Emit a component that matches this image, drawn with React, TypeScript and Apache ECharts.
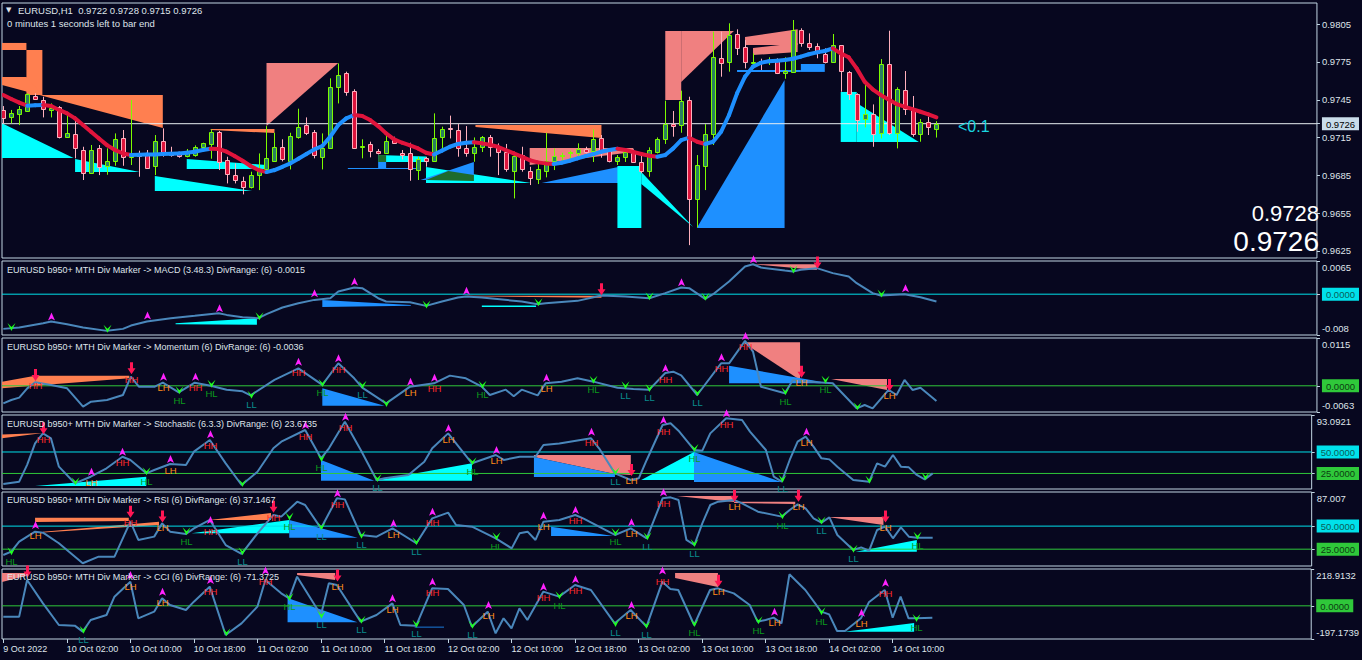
import React, { useEffect, useRef } from "react";
import * as echarts from "echarts";

const FONT = '"Liberation Sans", Arial, sans-serif';
const BG = "#07071f";
const FRAME = "#c2d6e4";
const TXT = "#dfe4ea";

// ---------- time axis ----------
const tickBars = [0, 8, 16, 24, 32, 40, 48, 56, 64, 72, 80, 88, 96, 104, 112];
const tickLabels = ["9 Oct 2022", "10 Oct 02:00", "10 Oct 10:00", "10 Oct 18:00", "11 Oct 02:00", "11 Oct 10:00", "11 Oct 18:00", "12 Oct 02:00", "12 Oct 10:00", "12 Oct 18:00", "13 Oct 02:00", "13 Oct 10:00", "13 Oct 18:00", "14 Oct 02:00", "14 Oct 10:00"];

// ---------- price pane ----------
const priceTicks = [0.9625, 0.9655, 0.9685, 0.9715, 0.9745, 0.9775, 0.9805];
const lastPrice = 0.9726;
// [open, close, low, high] per H1 bar
const ohlc = [
  [0.97369, 0.97302, 0.97263, 0.974], [0.9731, 0.97342, 0.97263, 0.97369], [0.97334, 0.97374, 0.97249, 0.974], [0.97363, 0.97493, 0.97355, 0.97501],
  [0.97482, 0.97453, 0.97448, 0.97501], [0.97448, 0.97374, 0.9731, 0.97474], [0.97366, 0.97387, 0.9731, 0.97421], [0.97395, 0.97157, 0.97143, 0.974],
  [0.97157, 0.97183, 0.97151, 0.97342], [0.97175, 0.97064, 0.96985, 0.97316], [0.97051, 0.96871, 0.96813, 0.97077], [0.96871, 0.97051, 0.96871, 0.97091],
  [0.97069, 0.96913, 0.96852, 0.97091], [0.96924, 0.96961, 0.96855, 0.97064], [0.96961, 0.97136, 0.96926, 0.97183], [0.97143, 0.96993, 0.96926, 0.9721],
  [0.96993, 0.97024, 0.96932, 0.97448], [0.97011, 0.97008, 0.96839, 0.97046], [0.97011, 0.96911, 0.96905, 0.97051], [0.96926, 0.9712, 0.96852, 0.9717],
  [0.9712, 0.97019, 0.96998, 0.97223], [0.9703, 0.97009, 0.96998, 0.97077], [0.97016, 0.97003, 0.9699, 0.97038], [0.97001, 0.97027, 0.96993, 0.97059],
  [0.97009, 0.97072, 0.96998, 0.97088], [0.97072, 0.97104, 0.97067, 0.97109], [0.97096, 0.97191, 0.96982, 0.97215], [0.97191, 0.96958, 0.96892, 0.97202],
  [0.96969, 0.96858, 0.96786, 0.96998], [0.9685, 0.9681, 0.96786, 0.96945], [0.96802, 0.9676, 0.96699, 0.96839], [0.9676, 0.9685, 0.96746, 0.96879],
  [0.96852, 0.96889, 0.96733, 0.97024], [0.96897, 0.96985, 0.96887, 0.97241], [0.96966, 0.97075, 0.96958, 0.97188], [0.97072, 0.96982, 0.96961, 0.97136],
  [0.96966, 0.97162, 0.96897, 0.97188], [0.97157, 0.97233, 0.97141, 0.97379], [0.97247, 0.97188, 0.9717, 0.9731], [0.97191, 0.97009, 0.96985, 0.9721],
  [0.96998, 0.97067, 0.96897, 0.97183], [0.97069, 0.97549, 0.97064, 0.9762], [0.97554, 0.97644, 0.97421, 0.97739], [0.9766, 0.97514, 0.97482, 0.97673],
  [0.97519, 0.97069, 0.97059, 0.97533], [0.97072, 0.97083, 0.96985, 0.97136], [0.97096, 0.97046, 0.96993, 0.97117], [0.97043, 0.97024, 0.97016, 0.97059],
  [0.9703, 0.9712, 0.97024, 0.97175], [0.97136, 0.97104, 0.97099, 0.97157], [0.9703, 0.97009, 0.96977, 0.97051], [0.97024, 0.96897, 0.96807, 0.97109],
  [0.96889, 0.96982, 0.96813, 0.96998], [0.96987, 0.96966, 0.96918, 0.96998], [0.96966, 0.97143, 0.96958, 0.97342], [0.97151, 0.97215, 0.97046, 0.97236],
  [0.97228, 0.97215, 0.97143, 0.97324], [0.9721, 0.97064, 0.96998, 0.97257], [0.97067, 0.9703, 0.96998, 0.97241], [0.9703, 0.97072, 0.96958, 0.97151],
  [0.97072, 0.97151, 0.97035, 0.97162], [0.97151, 0.97072, 0.96998, 0.9717], [0.97075, 0.97038, 0.96852, 0.97104], [0.97038, 0.96897, 0.96879, 0.97099],
  [0.96887, 0.97003, 0.96667, 0.97038], [0.97009, 0.96897, 0.96879, 0.97077], [0.96887, 0.96831, 0.96773, 0.96918], [0.96818, 0.96897, 0.96781, 0.96958],
  [0.96887, 0.96966, 0.96834, 0.97188], [0.96961, 0.97003, 0.96892, 0.97064], [0.97001, 0.97009, 0.96945, 0.9703], [0.97024, 0.97032, 0.96963, 0.97046],
  [0.9703, 0.97061, 0.97003, 0.97104], [0.97061, 0.97038, 0.97024, 0.97077], [0.97046, 0.97136, 0.96956, 0.97215], [0.97143, 0.97043, 0.9699, 0.9717],
  [0.97043, 0.96966, 0.96953, 0.97056], [0.96966, 0.96993, 0.96932, 0.97011], [0.96998, 0.97035, 0.96956, 0.97056], [0.9703, 0.96958, 0.9695, 0.97056],
  [0.96953, 0.96887, 0.96866, 0.97019], [0.96887, 0.97048, 0.96839, 0.97072], [0.97038, 0.97136, 0.97024, 0.97151], [0.97136, 0.97255, 0.97099, 0.97443],
  [0.97257, 0.97244, 0.97157, 0.97361], [0.97247, 0.97437, 0.97188, 0.97522], [0.97448, 0.96664, 0.96296, 0.97474], [0.96659, 0.96929, 0.96437, 0.97011],
  [0.96926, 0.97175, 0.96733, 0.97257], [0.97175, 0.97787, 0.97091, 0.97991], [0.97779, 0.97739, 0.97633, 0.97991], [0.97747, 0.97961, 0.97673, 0.98057],
  [0.97972, 0.97858, 0.97805, 0.98009], [0.97866, 0.97747, 0.97699, 0.97924], [0.97739, 0.9775, 0.97699, 0.97818], [0.97755, 0.97739, 0.97686, 0.97776],
  [0.97747, 0.97768, 0.97726, 0.97787], [0.97771, 0.97665, 0.97654, 0.97779], [0.9766, 0.97681, 0.97617, 0.97787], [0.97673, 0.98004, 0.97665, 0.98083],
  [0.98004, 0.97898, 0.97871, 0.98017], [0.97898, 0.97866, 0.97845, 0.97977], [0.97879, 0.97818, 0.97779, 0.97898], [0.97813, 0.97752, 0.97739, 0.97858],
  [0.97747, 0.97882, 0.97744, 0.97972], [0.97882, 0.97678, 0.97514, 0.97882], [0.9767, 0.97493, 0.97448, 0.97678], [0.97493, 0.97289, 0.97196, 0.97501],
  [0.97294, 0.97334, 0.97231, 0.97567], [0.97334, 0.97175, 0.97077, 0.97413], [0.97183, 0.97731, 0.97143, 0.97773], [0.97731, 0.97183, 0.9717, 0.97998],
  [0.97189, 0.97533, 0.97064, 0.97549], [0.97527, 0.97374, 0.97329, 0.97678], [0.97369, 0.97175, 0.97157, 0.9748], [0.97175, 0.97271, 0.97117, 0.97297],
  [0.97271, 0.97231, 0.9717, 0.97316], [0.9722, 0.9726, 0.9715, 0.9728],
];
const maLine = [
  0.97488, 0.97456, 0.97427, 0.97403, 0.97406, 0.97408, 0.974, 0.97369, 0.97342, 0.97302,
  0.97249, 0.97196, 0.97143, 0.9709, 0.97051, 0.97024, 0.97011, 0.97014, 0.97016, 0.97016,
  0.97019, 0.97021, 0.97024, 0.9703, 0.97038, 0.97051, 0.97061, 0.97059, 0.97038, 0.97003,
  0.96966, 0.96924, 0.96892, 0.96876, 0.96892, 0.96918, 0.96945, 0.96982, 0.97019, 0.97056,
  0.97083, 0.97157, 0.97249, 0.97302, 0.97329, 0.97321, 0.97289, 0.97241, 0.97183, 0.97136,
  0.97109, 0.97088, 0.97064, 0.9703, 0.97016, 0.97046, 0.97077, 0.97099, 0.97109, 0.97112,
  0.97104, 0.97093, 0.97077, 0.97051, 0.97024, 0.96998, 0.96971, 0.96953, 0.96945, 0.9694,
  0.9695, 0.96966, 0.96985, 0.97003, 0.97019, 0.97038, 0.97051, 0.97061, 0.97051, 0.97035,
  0.97019, 0.97006, 0.96998, 0.97011, 0.97064, 0.9713, 0.97149, 0.97117, 0.97099, 0.97117,
  0.97196, 0.97329, 0.97501, 0.97633, 0.97713, 0.97744, 0.97755, 0.9776, 0.97765, 0.97776,
  0.97792, 0.97811, 0.97826, 0.97837, 0.97858, 0.97818, 0.97787, 0.97699, 0.97593, 0.97533,
  0.97488, 0.97453, 0.97416, 0.97395, 0.97376, 0.97355, 0.97334, 0.9731,
];
// divergence zones: [kind, [[bar, value], ...]]
const mainZones: [string, number[][]][] = [
  ["coral", [[-0.2, 0.97901], [2.9, 0.97901], [2.9, 0.97845], [-0.2, 0.97845]]],
  ["coral", [[2.9, 0.97845], [4.9, 0.97845], [4.9, 0.97488], [2.9, 0.97488]]],
  ["coral", [[-0.2, 0.97631], [2.9, 0.97631], [4.9, 0.97488], [20, 0.97488], [20, 0.97226], [-0.2, 0.97567]]],
  ["aqua", [[-0.2, 0.97265], [8.8, 0.96988], [-0.2, 0.96988]]],
  ["aqua", [[9, 0.9698], [17.1, 0.96876], [9, 0.96876]]],
  ["aqua", [[19, 0.96845], [31.2, 0.96725], [19, 0.96725]]],
  ["salmon", [[33, 0.97742], [42, 0.97742], [33, 0.97242]]],
  ["coral", [[26, 0.97218], [34, 0.97218], [34, 0.97186], [26, 0.9721]]],
  ["aqua", [[23, 0.9698], [33, 0.96932], [33, 0.969], [23, 0.969]]],
  ["aqua", [[47, 0.97011], [53, 0.97], [53, 0.96956], [47, 0.96956]]],
  ["blue", [[43.2, 0.96908], [52.3, 0.96908], [52.3, 0.969], [43.2, 0.969]]],
  ["green", [[47, 0.97011], [48, 0.97011], [48, 0.96956], [47, 0.96956]]],
  ["blue", [[47, 0.96956], [48, 0.96956], [48, 0.96908], [47, 0.96908]]],
  ["aqua", [[53, 0.96916], [66.2, 0.96789], [53, 0.96789]]],
  ["blue", [[52.3, 0.96813], [59, 0.96956], [59, 0.96813]]],
  ["green", [[53, 0.96813], [55.8, 0.96884], [59, 0.96853], [59, 0.96805]]],
  ["blue", [[67.5, 0.96789], [77.1, 0.96916], [77.1, 0.96789]]],
  ["salmon", [[66, 0.97067], [79, 0.97067], [79, 0.97035], [66, 0.96932]]],
  ["coral", [[59.2, 0.9725], [75, 0.9725], [75, 0.97146], [59.2, 0.97234]]],
  ["aqua", [[77, 0.96924], [80, 0.96924], [80, 0.96432], [77, 0.96432]]],
  ["aqua", [[80, 0.96876], [80, 0.96781], [86.5, 0.9644]]],
  ["blue", [[86.95, 0.96432], [97.96, 0.97607], [97.96, 0.96432]]],
  ["salmon", [[83, 0.97996], [85, 0.97996], [85, 0.97448], [83, 0.97448]]],
  ["salmon", [[85, 0.97996], [91.6, 0.97996], [85, 0.97591]]],
  ["salmon", [[93, 0.97948], [99.6, 0.9801], [99.6, 0.97885], [93, 0.97885]]],
  ["salmon", [[94, 0.97861], [99.6, 0.97901], [99.6, 0.9783], [94, 0.97805]]],
  ["blue", [[92, 0.97686], [100, 0.97686], [100, 0.97671], [92, 0.97671]]],
  ["blue", [[100, 0.97734], [103, 0.97734], [103, 0.97671], [100, 0.97671]]],
  ["aqua", [[105, 0.97512], [107, 0.97512], [107, 0.97115], [105, 0.97115]]],
  ["aqua", [[107, 0.97424], [114.8, 0.97115], [107, 0.97115]]],
];

// ---------- MACD ----------
const macdLine = [
  [0, -0.0068], [2, -0.00654], [5, -0.00569], [6, -0.00536], [8, -0.00589], [10, -0.00654], [13, -0.00719], [15, -0.0068], [16, -0.00615], [18, -0.00536],
  [21, -0.00471], [24, -0.00425], [27, -0.00373], [28, -0.00406], [30, -0.00452], [32, -0.00471], [33, -0.00392], [35, -0.00262], [37, -0.00177], [39, -0.00112],
  [41, -0.00079], [42, 0.00052], [44, 0.0013], [45, 0.00117], [47, -0.00079], [48, -0.00144], [51, -0.00157], [53, -0.00229], [55, -0.00144], [57, -0.00066],
  [58, -0.00046], [60, -0.00066], [65, -0.00144], [67, -0.00197], [68, -0.00177], [72, -0.00131], [75, -0.00026], [78, -0.00046], [81, -0.00079], [83, 0.0002],
  [85, 0.0013], [86, 0.00117], [88, -0.00092], [89, 0], [91, 0.00248], [93, 0.00542], [94, 0.00587], [95, 0.00522], [98, 0.00463], [99, 0.00444],
  [100, 0.00477], [102, 0.0051], [104, 0.00412], [106, 0.00346], [107, 0.00216], [109, 0.0002], [110, -0.00026], [113, 0], [115, -0.00059], [117, -0.00144],
];
const macdLevels = [0];
const macdMarks: [number, number, string, string][] = [
  [6, -0.00537, "P", ""], [18, -0.00517, "P", ""], [27, -0.00373, "P", ""], [39, -0.00078, "P", ""], [44, 0.00149, "P", ""], [58, -0.00033, "P", ""],
  [85, 0.00137, "P", ""], [94, 0.00588, "P", ""], [113, 0.0002, "P", ""], [75, 0, "S", ""], [102, 0.00521, "S", ""],
  [1, -0.00681, "T", ""], [13, -0.00719, "T", ""], [32, -0.0047, "T", ""], [53, -0.00243, "T", ""], [67, -0.00196, "T", ""], [81, -0.00078, "T", ""],
  [88, -0.00092, "T", ""], [99, 0.00443, "T", ""], [110, -0.00027, "T", ""],
];
const macdZones: [string, number[][]][] = [
  ["aqua", [[21.6, -0.0057], [31.8, -0.0047], [31.8, -0.006], [21.6, -0.0059]]],
  ["blue", [[40, -0.00112], [51.1, -0.0021], [51.1, -0.00229], [40, -0.00249]]],
  ["aqua", [[60, -0.0022], [66.8, -0.0022], [66.8, -0.0025], [60, -0.0025]]],
  ["coral", [[58.1, -0.0003], [75, -0.0003], [75, -0.0007], [58.1, -0.0004]]],
  ["salmon", [[93.8, 0.00588], [102, 0.00588], [102, 0.00476]]],
];

// ---------- Momentum ----------
const momLine = [
  [0, -0.00421], [1, -0.00341], [2, -0.00285], [3, -0.00061], [4, 0.00084], [6, 0.00021], [8, -0.00061], [10, -0.00501], [11, -0.00381], [13, -0.00341],
  [15, -0.00221], [16, 0.00221], [17, -0.00021], [19, -0.00021], [20, 0.00076], [22, -0.00157], [24, 0.00076], [26, 0], [28, -0.00093], [30, -0.00133],
  [31, -0.00229], [34, 0.00141], [37, 0.00421], [40, 0.00021], [42, 0.00541], [44, 0.0018], [45, -0.00045], [48, -0.00421], [51, -0.00021], [54, 0.0006],
  [56, 0.00245], [58, 0.0018], [60, -0.00021], [61, -0.00221], [63, -0.00093], [64, -0.00253], [65, -0.00093], [67, -0.00229], [68, 0.0006], [70, 0.001],
  [72, 0.0018], [74, 0.001], [77, -0.00045], [79, -0.00077], [81, -0.00093], [83, 0.00309], [84, 0.0034], [85, 0.00253], [87, -0.00221], [90, 0.00541],
  [91, 0.00541], [93, 0.0108], [94, 0.00823], [95, -0.00021], [98, -0.00181], [99, 0.0014], [102, 0.00084], [104, 0.0006], [107, -0.00541], [108, -0.00461],
  [109, -0.00541], [111, -0.001], [112, -0.00221], [113, 0.0014], [114, -0.001], [115, -0.00045], [117, -0.00365],
];
const momLevels = [0];
const momMarks: [number, number, string, string][] = [
  [4, 0.0014, "S", "HH"], [16, 0.003, "S", "HH"], [20, 0.001, "P", "LH"], [22, -0.00157, "T", "HL"], [24, 0.001, "P", "HH"], [26, 0, "T", "HL"],
  [31, -0.00262, "T", "LL"], [37, 0.0046, "P", "HH"], [40, 0.0002, "T", "HL"], [42, 0.0054, "P", "HH"], [45, -0.0002, "T", "LL"], [48, -0.0046, "T", ""],
  [51, -0.0002, "P", "LH"], [54, 0.00075, "P", "HH"], [60, -0.0002, "T", "HL"], [68, 0.00075, "P", "LH"], [74, 0.001, "T", "HL"], [78, -0.00035, "T", "LL"],
  [81, -0.001, "T", "LL"], [83, 0.003, "P", "HH"], [87, -0.00205, "T", "LL"], [90, 0.00565, "P", "HH"], [93, 0.01078, "P", "HH"], [98, -0.0018, "T", "HL"],
  [100, 0.0022, "S", "LH"], [103, 0.001, "T", "HL"], [107, -0.0054, "T", ""], [111, -0.001, "S", "LH"],
];
const momZones: [string, number[][]][] = [
  ["coral", [[-0.2, 0.00099], [4, 0.00243], [15.8, 0.00243], [15.8, 0.0018], [-0.2, -0.0006]]],
  ["blue", [[40, -0.0006], [47.8, -0.00479], [40, -0.00479]]],
  ["salmon", [[92.7, 0.01046], [99.9, 0.01046], [99.9, 0.0014]]],
  ["blue", [[91, 0.00483], [102.5, 0.00099], [102.5, 0.0006], [91, 0.0006]]],
  ["salmon", [[103.8, 0.00164], [110.8, 0.00164], [110.8, -0.001]]],
];

// ---------- Stochastic ----------
const stochLine = [
  [0, 12.7], [2, 15.4], [3, 35], [4, 60], [5, 71.7], [6, 65.9], [7, 32.9], [9, 13.5], [11, 21.2], [13, 31], [15, 44.5], [16, 40.7], [18, 25.1], [19, 29],
  [21, 36], [23, 34.8], [24, 50.4], [26, 64], [28, 36.8], [30, 11.5], [32, 27], [34, 54.3], [35, 62], [38, 75.6], [40, 42.6], [41, 54.3], [43, 85.3],
  [45, 52.3], [47, 17.4], [48, 19.3], [51, 23.2], [53, 38.7], [54, 54.3], [56, 71.7], [58, 48.4], [59, 36.8], [62, 46.5], [63, 40.7], [65, 44.5],
  [67, 44.5], [68, 58.1], [70, 60], [74, 65.9], [75, 54.3], [77, 25.1], [79, 17.4], [80, 19.3], [81, 40.7], [83, 81.4], [84, 83.4], [85, 74.8],
  [87, 52.3], [88, 51.5], [89, 71.7], [91, 89.2], [93, 87.3], [94, 73.7], [96, 52.3], [97, 21.2], [98, 15.4], [99, 40.7], [100, 62], [101, 67.8],
  [102, 56.2], [103, 42.6], [104, 41.4], [105, 32.9], [107, 17.4], [109, 15.4], [110, 36.8], [111, 32.9], [112, 46.5], [113, 32.9], [114, 32.1],
  [115, 23.2], [116, 18.1], [117, 25.1],
];
const stochLevels = [50, 25];
const stochMarks: [number, number, string, string][] = [
  [5, 71.7, "S", "HH"], [9, 13.5, "T", ""], [11, 21.2, "P", "LH"], [15, 44.5, "P", "HH"], [18, 25.1, "T", "HL"], [21, 36, "P", "LH"], [26, 64.7, "P", "HH"],
  [30, 11.5, "T", ""], [38, 75.6, "P", "HH"], [40, 40.7, "T", "HL"], [43, 85.3, "P", "HH"], [47, 17.4, "T", "LL"], [56, 71.7, "P", "LH"], [59, 36.8, "T", "HL"],
  [62, 46.5, "P", "LH"], [74, 67.8, "P", "HH"], [77, 25.1, "T", "LL"], [79, 23.2, "S", "LH"], [83, 81.4, "P", "HH"], [87, 52.3, "T", "HL"], [91, 89.2, "P", "HH"],
  [98, 16.6, "T", "LL"], [101, 67.8, "P", "LH"], [109, 15.4, "T", ""], [116, 19.3, "T", ""],
];
const stochZones: [string, number[][]][] = [
  ["coral", [[-0.2, 70.5], [5, 72], [-0.2, 66]]],
  ["aqua", [[4, 10.4], [18, 21.2], [18, 10.4]]],
  ["blue", [[40, 40.7], [46.7, 16.6], [40, 16.6]]],
  ["aqua", [[46.7, 16.6], [59, 36.8], [59, 16.6]]],
  ["salmon", [[66.8, 46.5], [79, 46.5], [79, 23.2], [77, 24.3], [66.8, 44.2]]],
  ["blue", [[66.8, 44.2], [77, 24.3], [77, 20.9], [66.8, 20.9]]],
  ["aqua", [[80.3, 17.4], [86.95, 50], [86.95, 17.4]]],
  ["blue", [[86.95, 50], [97.96, 15], [86.95, 15]]],
];

// ---------- RSI ----------
const rsiLine = [
  [0, 18.7], [1, 22.3], [2, 33.2], [4, 44], [5, 42.9], [7, 31.4], [10, 9.7], [12, 16.9], [14, 16.9], [16, 54.8], [17, 35], [19, 38.6], [20, 53], [21, 44],
  [23, 41.5], [24, 47.6], [26, 56.7], [28, 29.5], [30, 19.8], [32, 42.2], [34, 62.1], [35, 60.3], [37, 76.5], [38, 72.9], [40, 47.6], [42, 80.2], [43, 79],
  [45, 40.4], [47, 38.6], [49, 47.6], [52, 31.4], [54, 58.4], [56, 64.6], [57, 51.2], [59, 49.4], [62, 36.8], [64, 25.9], [65, 42.2], [66, 44], [67, 35],
  [68, 54.8], [70, 56.6], [72, 62.1], [73, 58.4], [75, 49.4], [77, 40.4], [79, 47.6], [81, 36.8], [83, 80.2], [84, 81.2], [85, 78.4], [86, 35], [87, 29.5],
  [88, 53], [89, 72.9], [90, 76.5], [92, 78.4], [93, 74.7], [95, 65.7], [98, 60.3], [99, 67.5], [100, 73.6], [101, 69.3], [102, 58.4], [103, 53.8],
  [104, 59.5], [105, 40.4], [107, 24.1], [108, 27], [109, 23.4], [110, 45.8], [111, 49.4], [112, 36.8], [113, 48.7], [114, 38.6], [115, 37.5], [117, 37.5],
];
const rsiLevels = [50, 25];
const rsiMarks: [number, number, string, string][] = [
  [1, 20.5, "T", "HL"], [4, 45.8, "P", "LH"], [16, 60.3, "S", "HH"], [20, 54.9, "S", "LH"], [23, 42.2, "T", "HL"], [26, 51.2, "P", "HH"], [30, 20.5, "T", "LL"],
  [34, 65.7, "S", "HH"], [36, 58.4, "T", "HL"], [40, 47.6, "T", "LL"], [42, 80.2, "P", "HH"], [45, 38.6, "T", "LL"], [49, 47.6, "P", "LH"], [52, 31.4, "T", "LL"],
  [54, 60.3, "P", "HH"], [62, 36.8, "T", "HL"], [68, 55.9, "P", "LH"], [72, 62.1, "P", "HH"], [77, 41.5, "T", "HL"], [79, 48.7, "P", "LH"], [81, 36.8, "T", "LL"],
  [83, 81.2, "P", "HH"], [87, 29.5, "T", "LL"], [92, 77.6, "S", "LH"], [98, 59.5, "T", "HL"], [100, 77.6, "S", "LH"], [103, 53.8, "T", "LL"], [107, 23.4, "T", "LL"],
  [111, 54.9, "S", "LH"], [115, 37.5, "T", "HL"],
];
const rsiZones: [string, number[][]][] = [
  ["coral", [[4, 59.1], [15.8, 59.1], [15.8, 55.5], [4, 54.5]]],
  ["coral", [[5, 44], [19.6, 54.8], [19.6, 51.2], [5, 43.1]]],
  ["aqua", [[23.7, 42.2], [36, 56.6], [36, 42.2]]],
  ["coral", [[25.9, 56.6], [33.7, 64.2], [33.7, 56.6]]],
  ["blue", [[36, 56.6], [44.6, 37.4], [36, 37.4]]],
  ["blue", [[68.96, 49.4], [76.8, 39.3], [68.96, 39.3]]],
  ["salmon", [[84.8, 82.7], [92, 82.7], [92, 76.2]]],
  ["salmon", [[92, 76.5], [99.7, 76.5], [99.7, 74], [92, 75.1]]],
  ["salmon", [[103.8, 59.9], [110.8, 59.9], [110.8, 51.2]]],
  ["aqua", [[107.3, 22.3], [115, 34.9], [115, 22.3]]],
];

// ---------- CCI ----------
const cciLine = [
  [0, -64.4], [2, -64.4], [3, 153.5], [5, 14.9], [7, -113.9], [9, -117.9], [10, -153.5], [11, -84.2], [13, -54.5], [14, 54.5], [16, 143.6], [17, -74.3],
  [19, -34.6], [20, 44.6], [21, 5], [23, -24.7], [24, 24.8], [26, 113.9], [28, -173.3], [30, -104], [32, -5], [33, 153.5], [35, 74.3], [36, 44.6], [37, 173.4],
  [40, -54.5], [41, 133.7], [42, 123.8], [45, -94.1], [47, -54.5], [49, 14.9], [50, -113.9], [52, -117.9], [54, 104], [56, 100], [58, 5], [59, -123.8],
  [61, -34.6], [62, -163.4], [63, -74.3], [64, -133.7], [65, -14.9], [66, -84.2], [68, 84.2], [70, 54.5], [72, 123.8], [74, 94.1], [77, -104], [79, -24.7],
  [81, -123.8], [83, 143.6], [84, 100], [85, 94.1], [87, -113.9], [89, 94.1], [90, 104], [92, 74.3], [94, 5], [95, -94.1], [96, -84.2], [97, -70.3],
  [98, -104], [99, 187.2], [101, 94.1], [103, -34.6], [104, -50.5], [105, -149.5], [106, -149.5], [108, -74.3], [109, 20.8], [111, 94.1], [112, -70.3],
  [113, 54.5], [114, -74.3], [115, -74.3], [117, -70.3],
];
const cciLevels = [0];
const cciMarks: [number, number, string, string][] = [
  [3, 175, "S", ""], [10, -153.5, "T", "LL"], [16, 153.5, "P", "LH"], [20, 54.5, "P", "LH"], [26, 123.8, "P", "HH"], [28, -169.4, "T", ""], [33, 180, "P", "HH"],
  [36, 40.6, "T", "HL"], [40, -64.4, "T", "LL"], [42, 150, "S", "LH"], [45, -94.1, "T", "LL"], [49, 14.9, "P", "LH"], [52, -117.9, "T", "LL"], [54, 113.9, "P", "HH"],
  [59, -123.8, "T", "LL"], [61, -24.7, "P", "LH"], [68, 84.2, "P", "HH"], [70, 50.5, "T", "HL"], [72, 127.8, "P", "HH"], [77, -113.9, "T", "LL"], [79, -24.7, "P", "LH"],
  [81, -123.8, "T", "LL"], [83, 180, "P", "HH"], [87, -113.9, "T", "HL"], [90, 119.9, "S", "LH"], [95, -98, "T", "HL"], [97, -64.4, "P", "LH"], [103, -44.6, "T", "HL"],
  [108, -70.3, "P", "LH"], [111, 108, "P", "HH"], [115, -84.2, "T", "HL"],
];
const cciZones: [string, number[][]][] = [
  ["salmon", [[-0.2, 195.1], [2.8, 195.1], [2.8, 177.3], [-0.2, 141.6]]],
  ["salmon", [[37, 195.1], [41.8, 195.1], [41.8, 153.5], [37, 183.2]]],
  ["blue", [[35.8, 46.5], [44.6, -97.9], [35.8, -97.9]]],
  ["blue", [[51.8, -124], [55.5, -124], [55.5, -129], [51.8, -129]]],
  ["salmon", [[84.6, 195.1], [90, 195.1], [90, 111.9], [84.6, 165.4]]],
  ["aqua", [[105.9, -153.8], [114.7, -102.1], [114.7, -153.8]]],
];

// ---------- styles ----------
const ZONE_COLORS: Record<string, string> = { coral: "#ff7f50", salmon: "#f08080", aqua: "#00ffff", blue: "#1e90ff", green: "#1e6b2c" };
const LABEL_COLORS: Record<string, string> = { HH: "#ff2a2a", LH: "#ff8c1a", HL: "#0c9a1c", LL: "#0a8c8c" };
const CYAN = "#00e1ea";
const GREEN = "#2fc83a";
const X_MIN = -0.1625;
const X_MAX = 164.71;
const AX_FS = 9.5;
const SM_FS = 9;

const panes = [
  { top: 3, height: 255, min: 0.96194, max: 0.98218 },
  { top: 261, height: 74, min: -0.008, max: 0.0065, minText: "-0.008", maxText: "0.0065" },
  { top: 338, height: 74, min: -0.0063, max: 0.0115, minText: "-0.0063", maxText: "0.0115" },
  { top: 415, height: 74, min: 6.8766, max: 93.0921, minText: "6.8766", maxText: "93.0921" },
  { top: 492, height: 74, min: 6.7567, max: 87.007, minText: "6.7567", maxText: "87.007" },
  { top: 569, height: 70, min: -197.1739, max: 218.9132, minText: "-197.1739", maxText: "218.9132" },
];

function zoneSeries(zones: [string, number[][]][], k: number) {
  return {
    type: "custom", xAxisIndex: k, yAxisIndex: k, silent: true, clip: true, z: 1,
    data: zones.map((z) => z[1][0]),
    renderItem: (params: any, api: any) => {
      const z = zones[params.dataIndex];
      return { type: "polygon", shape: { points: z[1].map((p) => api.coord(p)) }, style: { fill: ZONE_COLORS[z[0]] } };
    },
  };
}

function markSeries(marks: [number, number, string, string][], k: number) {
  return {
    type: "custom", xAxisIndex: k, yAxisIndex: k, silent: true, clip: false, z: 6,
    data: marks.map((m) => [m[0], m[1]]),
    renderItem: (params: any, api: any) => {
      const m = marks[params.dataIndex];
      const p = api.coord([m[0], m[1]]);
      const x = Math.round(p[0]) + 0.5, y = p[1];
      const ch: any[] = [];
      if (m[2] === "P") {
        ch.push({ type: "polygon", shape: { points: [[x, y - 9], [x - 3.5, y - 1], [x, y - 3], [x + 3.5, y - 1]] }, style: { fill: "#ff22ff" } });
      } else if (m[2] === "S") {
        ch.push({ type: "polygon", shape: { points: [[x, y + 1], [x - 4, y - 5], [x - 1.5, y - 5], [x - 1.5, y - 11], [x + 1.5, y - 11], [x + 1.5, y - 5], [x + 4, y - 5]] }, style: { fill: "#ff1654" } });
      } else {
        ch.push({ type: "polygon", shape: { points: [[x, y + 2], [x - 4, y - 6], [x, y - 2], [x + 4, y - 6]] }, style: { fill: "#1fff1f" } });
      }
      if (m[3]) {
        ch.push({ type: "text", x, y: y + (m[2] === "T" ? 3 : 1), style: { text: m[3], fill: LABEL_COLORS[m[3]], font: `9.5px ${FONT}`, align: "center", verticalAlign: "top" } });
      }
      return { type: "group", children: ch };
    },
  };
}

function lineSeries(data: number[][], k: number) {
  return { type: "line", xAxisIndex: k, yAxisIndex: k, data, symbol: "none", silent: true, z: 4, lineStyle: { color: "#4a87bb", width: 2 } };
}

function levelSeries(level: number, color: string, k: number) {
  return { type: "line", xAxisIndex: k, yAxisIndex: k, data: [[X_MIN, level], [X_MAX, level]], symbol: "none", silent: true, z: 2, lineStyle: { color, width: 1 } };
}

function buildOption() {
  const grids = panes.map((p) => ({ left: 2, width: 1319, top: p.top, height: p.height, show: true, borderColor: FRAME, borderWidth: 1, backgroundColor: "transparent" }));
  const xAxes = panes.map((_, k) => ({
    type: "value", gridIndex: k, min: X_MIN, max: X_MAX, show: k === 5, position: "bottom",
    axisLine: { show: false, onZero: false }, splitLine: { show: false },
    axisTick: { show: true, customValues: tickBars, length: 4, lineStyle: { color: FRAME } },
    axisLabel: {
      show: k === 5, customValues: tickBars, align: "left", margin: 5, color: TXT, fontFamily: FONT, fontSize: SM_FS,
      formatter: (v: number) => tickLabels[tickBars.indexOf(Math.round(v))] ?? "",
    },
  }));
  const levelColor = (k: number, lv: number) => (k === 1 ? "c" : k === 3 || k === 4 ? (lv === 50 ? "c" : "g") : "g");
  const paneLevels = [[], macdLevels, momLevels, stochLevels, rsiLevels, cciLevels];
  const rich = {
    t: { padding: [13, 0, 0, 0], color: TXT, fontFamily: FONT, fontSize: AX_FS },
    b: { padding: [0, 0, 13, 0], color: TXT, fontFamily: FONT, fontSize: AX_FS },
    c: { backgroundColor: CYAN, color: "#0b5e58", padding: [2, 4, 1, 4], fontFamily: FONT, fontSize: AX_FS },
    g: { backgroundColor: GREEN, color: "#0d3d12", padding: [2, 4, 1, 4], fontFamily: FONT, fontSize: AX_FS },
    cur: { backgroundColor: "#c9dcea", color: "#000", padding: [2, 4, 1, 4], fontFamily: FONT, fontSize: AX_FS },
  };
  const yAxes = panes.map((p: any, k) => {
    const vals = k === 0 ? [...priceTicks, lastPrice] : [p.max, ...paneLevels[k], p.min];
    return {
      type: "value", gridIndex: k, position: "right", min: p.min, max: p.max,
      splitLine: { show: false }, axisLine: { show: false, onZero: false },
      axisTick: { show: true, length: 3, customValues: vals, lineStyle: { color: FRAME } },
      axisLabel: {
        customValues: vals, margin: 5, color: TXT, fontFamily: FONT, fontSize: AX_FS, rich,
        formatter: (v: number) => {
          if (k === 0) return Math.abs(v - lastPrice) < 1e-7 ? `{cur|${v.toFixed(4)}}` : v.toFixed(4);
          if (v === p.max) return `{t|${p.maxText}}`;
          if (v === p.min) return `{b|${p.minText}}`;
          return `{${levelColor(k, v)}|${v.toFixed(4)}}`;
        },
      },
    };
  });

  const series: any[] = [];
  // price pane
  series.push(zoneSeries(mainZones, 0));
  series.push({ type: "line", xAxisIndex: 0, yAxisIndex: 0, data: [[X_MIN, lastPrice], [X_MAX, lastPrice]], symbol: "none", silent: true, z: 2, lineStyle: { color: "#e8eef2", width: 1 } });
  series.push({
    type: "custom", xAxisIndex: 0, yAxisIndex: 0, clip: true, silent: true, z: 3,
    data: ohlc.map((d, i) => [i, d[0], d[1], d[2], d[3]]),
    encode: { x: 0, y: [1, 2, 3, 4] },
    renderItem: (params: any, api: any) => {
      const i = api.value(0), o = api.value(1), c = api.value(2), l = api.value(3), h = api.value(4);
      const po = api.coord([i, o]), pc = api.coord([i, c]), pl = api.coord([i, l]), ph = api.coord([i, h]);
      const bull = c >= o;
      const cx = Math.round(po[0]);
      const top = Math.round(Math.min(po[1], pc[1])) + 0.5, bot = Math.round(Math.max(po[1], pc[1])) + 0.5;
      const edge = bull ? "#7cfc00" : "#ffb0bd";
      return {
        type: "group",
        children: [
          { type: "line", shape: { x1: cx + 0.5, y1: ph[1], x2: cx + 0.5, y2: pl[1] }, style: { stroke: edge, lineWidth: 1 } },
          { type: "rect", shape: { x: cx - 1.5, y: top, width: 4, height: Math.max(1, bot - top) }, style: { fill: bull ? "#2a8060" : "#dc143c", stroke: edge, lineWidth: 1 } },
        ],
      };
    },
  });
  series.push({
    type: "custom", xAxisIndex: 0, yAxisIndex: 0, clip: true, silent: true, z: 4,
    data: maLine.slice(0, -1).map((v, i) => [i, v, maLine[i + 1]]),
    encode: { x: 0, y: [1, 2] },
    renderItem: (params: any, api: any) => {
      const i = api.value(0), a = api.value(1), b = api.value(2);
      const p1 = api.coord([i, a]), p2 = api.coord([i + 1, b]);
      return { type: "line", shape: { x1: p1[0], y1: p1[1], x2: p2[0], y2: p2[1] }, style: { stroke: b >= a ? "#1e90ff" : "#e0143c", lineWidth: 4, lineCap: "round" } };
    },
  });

  const sub = [
    { k: 1, line: macdLine, zones: macdZones, marks: macdMarks, levels: [[0, CYAN]] },
    { k: 2, line: momLine, zones: momZones, marks: momMarks, levels: [[0, GREEN]] },
    { k: 3, line: stochLine, zones: stochZones, marks: stochMarks, levels: [[50, CYAN], [25, GREEN]] },
    { k: 4, line: rsiLine, zones: rsiZones, marks: rsiMarks, levels: [[50, CYAN], [25, GREEN]] },
    { k: 5, line: cciLine, zones: cciZones, marks: cciMarks, levels: [[0, GREEN]] },
  ];
  sub.forEach((s) => {
    s.levels.forEach((lv: any) => series.push(levelSeries(lv[0], lv[1], s.k)));
    series.push(zoneSeries(s.zones, s.k));
    series.push(lineSeries(s.line, s.k));
    series.push(markSeries(s.marks, s.k));
  });

  const txt = (text: string, x: number, y: number, size: number, fill = TXT, align = "left", family = FONT) => ({
    type: "text", x, y, z: 100, silent: true,
    style: { text, fill, font: `${size}px ${family}`, align, verticalAlign: "middle" },
  });
  const titles = [
    ["EURUSD b950+ MTH Div Marker -> MACD (3.48.3) DivRange: (6) -0.0015", 270],
    ["EURUSD b950+ MTH Div Marker -> Momentum (6) DivRange: (6) -0.0036", 347],
    ["EURUSD b950+ MTH Div Marker -> Stochastic (6.3.3) DivRange: (6) 23.6735", 424],
    ["EURUSD b950+ MTH Div Marker -> RSI (6) DivRange: (6) 37.1467", 500],
    ["EURUSD b950+ MTH Div Marker -> CCI (6) DivRange: (6) -71.3725", 577],
  ];
  const graphic = [
    txt("▼", 6, 10, 7, TXT, "left", '"DejaVu Sans", sans-serif'),
    txt("EURUSD,H1  0.9722 0.9728 0.9715 0.9726", 18, 10, 9.5),
    txt("0 minutes 1 seconds left to bar end", 7, 23, 9.5),
    txt("<0.1", 958, 126, 16, "#19d6e0", "left"),
    txt("0.9728", 1319, 213, 22, "#ffffff", "right"),
    txt("0.9726", 1319, 241, 28, "#ffffff", "right"),
    ...titles.map((t) => txt(t[0] as string, 7, t[1] as number, SM_FS)),
  ];

  return {
    backgroundColor: BG,
    animation: false,
    textStyle: { fontFamily: FONT },
    grid: grids,
    xAxis: xAxes,
    yAxis: yAxes,
    series,
    graphic,
  };
}

export default function App() {
  const ref = useRef<HTMLDivElement>(null);
  useEffect(() => {
    const chart = echarts.init(ref.current!, null, { renderer: "svg" });
    chart.setOption(buildOption() as any);
    return () => chart.dispose();
  }, []);
  return <div ref={ref} style={{ position: "fixed", left: 0, top: 0, width: 1362, height: 660 }} />;
}
